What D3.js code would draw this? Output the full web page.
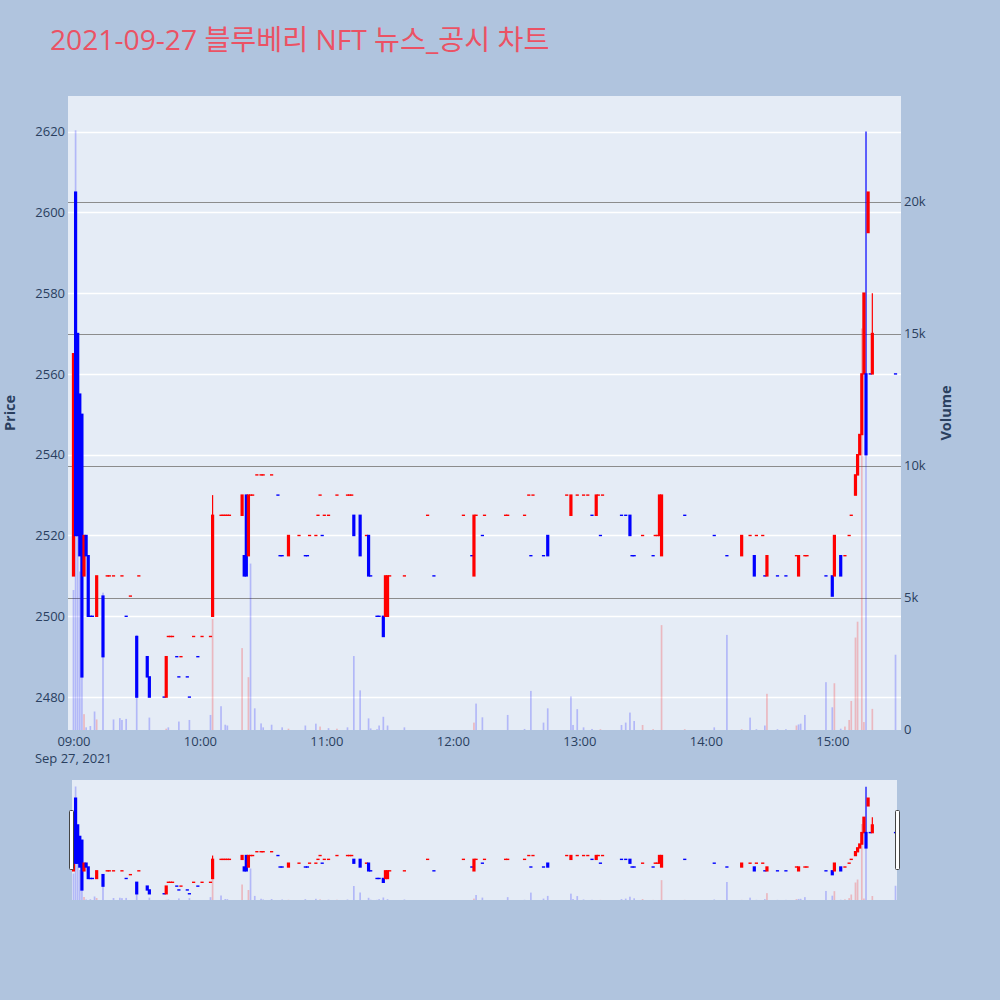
<!DOCTYPE html>
<html><head><meta charset="utf-8">
<script src="https://cdn.jsdelivr.net/npm/d3@7"></script>
<style>body{margin:0;background:#B0C4DE;} svg{display:block}</style>
</head><body><svg id="c" width="1000" height="1000"></svg>
<script>
const TITLE = "2021-09-27 블루베리 NFT 뉴스_공시 차트";
const DATE_LABEL = "Sep 27, 2021";
const T0 = new Date(2021, 8, 27, 9, 0, 0);
const xDomainMin = [-2.6, 392.6]; // minutes from 09:00
const priceDomain = [2471.85, 2628.8];
const volumeDomain = [0, 24000];

// [minute from 09:00, open, high, low, close]; single value = unchanged minute (open=high=low=close)
const candles = [
 [0,2510,2565,2510,2565],[1,2605,2605,2520,2520],[2,2570,2570,2520,2520],[3,2555,2555,2515,2515],
 [4,2550,2550,2485,2485],[5,2510,2520,2510,2520],[6,2520,2520,2515,2515],[7,2515,2515,2500,2500],
 [8,2500],[9,2500],[11,2500,2510,2500,2510],[14,2505,2505,2490,2490],
 [16,2510],[17,2510],[19,2510],[23,2510],[25,2500],[27,2505],
 [30,2495,2495,2480,2480],[31,2510],[35,2490,2490,2485,2485],[36,2485,2485,2480,2480],
 [43,2480],[44,2480,2490,2480,2490],[45,2495],[46,2495],[47,2495],[49,2490],[50,2485],[51,2490],
 [54,2485],[55,2480],[57,2495],[59,2490],[61,2495],[65,2495],
 [66,2500,2530,2500,2525],[70,2525],[71,2525],[72,2525],[73,2525],[74,2525],
 [80,2525,2530,2525,2530],[81,2515,2515,2510,2510],[82,2530,2530,2510,2510],[83,2515,2530,2515,2530],
 [84,2530],[85,2530],[87,2535],[89,2535],[90,2535],[94,2535],[97,2530],[98,2515],[99,2515],
 [102,2515,2520,2515,2520],[107,2520],[110,2515],[111,2515],[112,2520],[115,2520],[116,2525],
 [117,2530],[118,2520],[119,2525],[121,2525],[125,2530],[130,2530],[131,2530],[132,2530],
 [133,2525,2525,2520,2520],[136,2525,2525,2515,2515],[139,2520],[140,2520,2520,2510,2510],
 [141,2510],[144,2500],[145,2500],[147,2500,2500,2495,2495],[148,2500,2510,2500,2510],
 [149,2500,2510,2500,2510],[150,2510],[157,2510],[168,2525],[171,2510],
 [185,2525],[189,2515],[190,2510,2525,2510,2525],[191,2525],[194,2520],[195,2525],
 [205,2525],[206,2525],[214,2525],[216,2530],[217,2515],[218,2530],[223,2515],
 [225,2520,2520,2515,2515],[234,2530],[236,2525,2530,2525,2530],[239,2530],[242,2530],[244,2530],
 [246,2525],[248,2525,2530,2525,2530],[249,2530],[250,2520],[251,2530],[260,2525],[262,2525],
 [264,2525,2525,2520,2520],[265,2515],[266,2515],[270,2520],[275,2515],[276,2520],[277,2520],
 [278,2520,2530,2520,2530],[279,2515,2530,2515,2530],[290,2525],[304,2520],[310,2515],
 [317,2515,2520,2515,2520],[321,2520],[323,2515,2515,2510,2510],[324,2520],[327,2520],[328,2510],
 [329,2510,2515,2510,2515],[334,2510],[338,2510],[343,2515],[344,2510,2515,2510,2515],
 [347,2515],[348,2515],[357,2510],[360,2510,2510,2505,2505],[361,2510,2520,2510,2520],
 [364,2515,2515,2510,2510],[366,2515],[368,2520],[369,2525],
 [371,2530,2535,2530,2535],[372,2535,2540,2535,2540],[373,2540,2545,2540,2545],
 [374,2545,2560,2545,2560],[375,2560,2580,2560,2580],[376,2560,2620,2540,2540],
 [377,2595,2605,2595,2605],[378,2560],[379,2560,2580,2560,2570],[390,2560]
];

// [minute, volume, direction (1 = up / red, -1 = down / blue)]
const volumes = [
 [0,5300,-1],[1,22700,-1],[2,8000,-1],[3,6000,-1],[4,4000,-1],[5,600,1],[6,100,-1],[8,150,-1],
 [10,700,-1],[11,400,1],[14,5200,-1],[19,400,-1],[22,450,-1],[23,380,-1],[25,420,-1],[30,3600,-1],
 [36,470,-1],[44,50,1],[45,100,-1],[50,320,-1],[55,380,-1],[65,570,-1],[66,4200,1],[70,900,-1],
 [72,200,-1],[73,170,-1],[80,3100,1],[83,2000,1],[84,6300,-1],[86,820,-1],[89,250,-1],[90,100,-1],
 [94,200,-1],[99,100,-1],[102,50,1],[110,170,-1],[115,240,-1],[117,130,1],[121,70,-1],[125,50,1],
 [130,100,-1],[133,2800,-1],[136,1500,-1],[140,440,-1],[141,60,-1],[144,30,-1],[145,170,-1],
 [147,500,-1],[149,170,-1],[157,100,-1],[190,280,1],[191,1000,-1],[194,480,-1],[206,570,-1],
 [214,40,-1],[217,1480,-1],[223,280,-1],[225,820,-1],[236,1270,-1],[237,190,-1],[239,790,-1],
 [242,100,-1],[246,40,-1],[250,30,1],[260,190,-1],[262,280,-1],[264,660,-1],[266,340,-1],
 [270,190,1],[275,30,1],[279,3970,1],[290,30,1],[304,100,-1],[310,3600,-1],[317,30,1],
 [321,470,-1],[324,30,-1],[328,170,-1],[329,1370,1],[334,30,-1],[338,30,-1],[343,170,1],
 [344,210,-1],[345,240,-1],[347,570,-1],[357,1810,-1],[360,860,-1],[361,1770,1],[364,50,-1],
 [366,130,1],[368,380,1],[369,1100,1],[371,3500,1],[372,4100,1],[374,15200,1],[375,300,1],
 [376,12000,-1],[379,800,1],[390,2850,-1]
];

const priceTicks = [2480,2500,2520,2540,2560,2580,2600,2620];
const volumeTicks = [0,5000,10000,15000,20000];
const volumeTickLabels = ["0","5k","10k","15k","20k"];
const timeTickHours = [9,10,11,12,13,14,15];

// ---------- layout ----------
const P = {l:68, r:901, t:96, b:730};
const S = {l:72, r:897, t:780, b:900};
const UP = "#ff0000", DOWN = "#0000ff";
const FONT = "'Open Sans', 'Noto Sans CJK KR', verdana, arial, sans-serif";
const TXT = "#2a3f5f";

const tm = m => new Date(T0.getTime() + m*60000);
const x = d3.scaleTime().domain(xDomainMin.map(tm)).range([P.l, P.r]);
const y = d3.scaleLinear().domain(priceDomain).range([P.b, P.t]);
const yv = d3.scaleLinear().domain(volumeDomain).range([P.b, P.t]);
const ys = d3.scaleLinear().domain(priceDomain).range([S.b, S.t]);
const yvs = d3.scaleLinear().domain(volumeDomain).range([S.b, S.t]);

// direction rule (as plotly): close vs open, ties vs previous close, then previous direction
let prevC = null, prevDir = 1;
const bars = candles.map(a => {
  const [m,o,h,l,c] = a.length === 2 ? [a[0],a[1],a[1],a[1],a[1]] : a;
  let dir;
  if (c > o) dir = 1; else if (c < o) dir = -1;
  else if (prevC !== null && c > prevC) dir = 1;
  else if (prevC !== null && c < prevC) dir = -1;
  else dir = prevDir;
  prevC = c; prevDir = dir;
  return {t: tm(m), o, h, l, c, dir};
});
const vols = volumes.map(([m,v,d]) => ({t: tm(m), v, dir: d}));

const svg = d3.select("#c");
svg.append("rect").attr("width",1000).attr("height",1000).attr("fill","#B0C4DE");

// title
svg.append("text").attr("x",50).attr("y",50).attr("fill","#EB5264")
  .attr("font-family",FONT).attr("font-size",28.2).text(TITLE);

// plot background
svg.append("rect").attr("x",P.l).attr("y",P.t).attr("width",P.r-P.l).attr("height",P.b-P.t).attr("fill","#E5ECF6");

// price grid (white)
svg.append("g").selectAll("line").data(priceTicks).join("line")
  .attr("x1",P.l).attr("x2",P.r).attr("y1",d=>Math.round(y(d))+0.5).attr("y2",d=>Math.round(y(d))+0.5)
  .attr("stroke","#fff").attr("stroke-width",1.5);
// volume grid (gray)
svg.append("g").selectAll("line").data(volumeTicks.filter(d=>d>0)).join("line")
  .attr("x1",P.l).attr("x2",P.r).attr("y1",d=>Math.round(yv(d))+0.5).attr("y2",d=>Math.round(yv(d))+0.5)
  .attr("stroke","#8c8c8c").attr("stroke-width",1);

function drawSeries(g, yP, yV, bw) {
  g.append("g").selectAll("rect").data(vols).join("rect")
    .attr("x", d => x(d.t) - bw/2).attr("width", bw)
    .attr("y", d => yV(d.v)).attr("height", d => Math.max(0, yV(0) - yV(d.v)))
    .attr("fill", d => d.dir > 0 ? UP : DOWN).attr("fill-opacity", 0.22);
  const cg = g.append("g");
  cg.selectAll("line").data(bars).join("line")
    .attr("x1", d => x(d.t)).attr("x2", d => x(d.t))
    .attr("y1", d => yP(d.h)).attr("y2", d => yP(d.l))
    .attr("stroke", d => d.dir > 0 ? UP : DOWN).attr("stroke-width", 1.2);
  cg.selectAll("rect").data(bars).join("rect")
    .attr("x", d => x(d.t) - 1.6).attr("width", 3.2)
    .attr("y", d => yP(Math.max(d.o,d.c)) - 0.7)
    .attr("height", d => Math.abs(yP(d.o) - yP(d.c)) + 1.4)
    .attr("fill", d => d.dir > 0 ? UP : DOWN);
}

svg.append("clipPath").attr("id","pc").append("rect")
  .attr("x",P.l).attr("y",P.t).attr("width",P.r-P.l).attr("height",P.b-P.t);
drawSeries(svg.append("g").attr("clip-path","url(#pc)"), y, yv, 1.7);

// axes
const axL = svg.append("g").attr("transform",`translate(${P.l},0)`)
  .call(d3.axisLeft(y).tickValues(priceTicks).tickSize(0).tickPadding(3).tickFormat(d3.format("d")));
const axR = svg.append("g").attr("transform",`translate(${P.r},0)`)
  .call(d3.axisRight(yv).tickValues(volumeTicks).tickSize(0).tickPadding(3)
    .tickFormat((d,i)=>volumeTickLabels[i]));
const axB = svg.append("g").attr("transform",`translate(0,${P.b})`)
  .call(d3.axisBottom(x).tickValues(timeTickHours.map(h=>new Date(2021,8,27,h,0)))
    .tickSize(0).tickPadding(7).tickFormat(d3.timeFormat("%H:%M")));
[axL,axR,axB].forEach(a=>{
  a.select(".domain").remove();
  a.selectAll("text").attr("fill",TXT).attr("font-family",FONT).attr("font-size",13);
});
axR.selectAll("text").attr("dy","0.28em");
svg.append("text").attr("x",x(T0)).attr("y",763).attr("text-anchor","middle")
  .attr("fill",TXT).attr("font-family",FONT).attr("font-size",13).text(DATE_LABEL);

// axis titles
svg.append("text").attr("transform","translate(15,413) rotate(-90)").attr("text-anchor","middle")
  .attr("fill",TXT).attr("font-family",FONT).attr("font-size",14.5).attr("font-weight","bold").text("Price");
svg.append("text").attr("transform","translate(951,413) rotate(-90)").attr("text-anchor","middle")
  .attr("fill",TXT).attr("font-family",FONT).attr("font-size",14.5).attr("font-weight","bold").text("Volume");

// range slider
svg.append("rect").attr("x",S.l).attr("y",S.t).attr("width",S.r-S.l).attr("height",S.b-S.t).attr("fill","#E5ECF6");
svg.append("clipPath").attr("id","sc").append("rect")
  .attr("x",S.l).attr("y",S.t).attr("width",S.r-S.l).attr("height",S.b-S.t);
drawSeries(svg.append("g").attr("clip-path","url(#sc)"), ys, yvs, 1.7);
[S.l-3, S.r-2].forEach(hx => {
  svg.append("rect").attr("x",hx+0.5).attr("y",810.5).attr("width",4).attr("height",59)
    .attr("rx",1).attr("fill","#fff").attr("stroke","#444").attr("stroke-width",1);
});
</script></body></html>
